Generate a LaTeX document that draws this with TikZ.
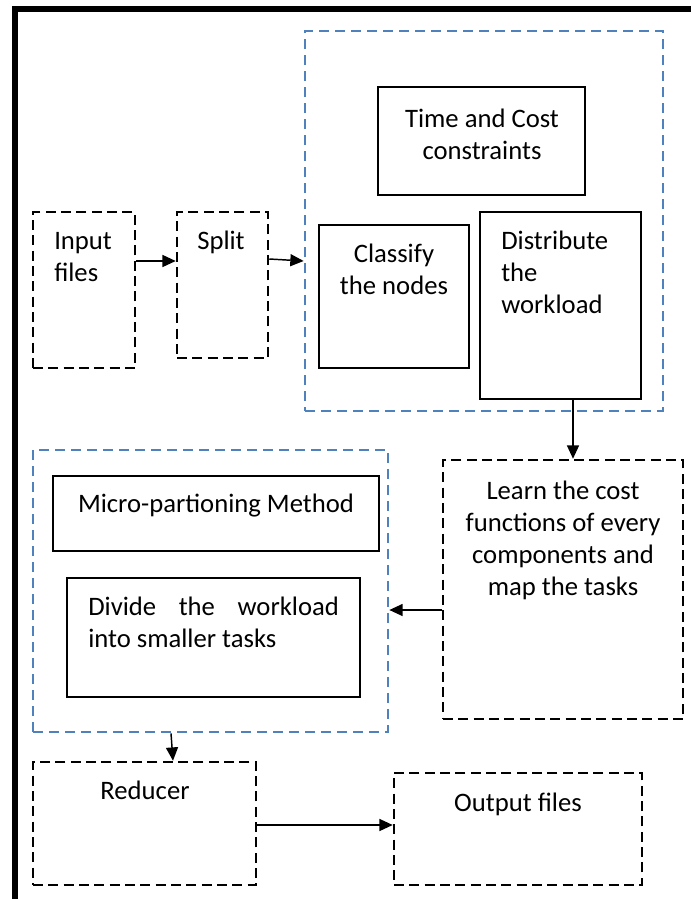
\documentclass[tikz,border=0pt]{standalone}
\usepackage{fontspec}
\setmainfont{Carlito}
\usetikzlibrary{arrows.meta,fit}
\definecolor{grpblue}{RGB}{79,129,189}
\begin{document}
\begin{tikzpicture}[x=0.75pt,y=-0.75pt,
  dbox/.style={draw, line width=1.9pt, dash pattern=on 7.5pt off 4pt, inner sep=0pt},
  gbox/.style={draw=grpblue, line width=2pt, dash pattern=on 7.5pt off 4.5pt, inner sep=0pt},
  sbox/.style={draw, line width=1.1pt, inner sep=0pt},
  txt/.style={font=\fontsize{20}{24}\selectfont, inner sep=0pt, anchor=north},
  arr/.style={line width=1.1pt, -{Triangle[length=10pt,width=9pt]}}]
\useasboundingbox (0,0) rectangle (691,899);
% outer frame
\draw[line width=4.5pt] (15,910) -- (15,9) -- (700,9);
% boxes
\node[dbox, fit={(33,212) (135,368)}] (inp) {};
\node[dbox, fit={(177,212) (268,358)}] (split) {};
\node[gbox, fit={(305,31) (663,411)}] (grp1) {};
\node[sbox, fit={(378,87) (585,195)}] (tc) {};
\node[sbox, fit={(319,225) (469,368)}] (cls) {};
\node[sbox, fit={(480,212) (641,399)}] (dist) {};
\node[dbox, fit={(443,460) (683,719)}] (learn) {};
\node[gbox, fit={(33,450) (388,732)}] (grp2) {};
\node[sbox, fit={(53,476) (379,551)}] (micro) {};
\node[sbox, fit={(67,578) (360,697)}] (div) {};
\node[dbox, fit={(33,762) (256,885)}] (red) {};
\node[dbox, fit={(394,773) (642,885)}] (out) {};
% texts
\node[txt, anchor=north west, align=left] (tinp) at (54,227) {\strut Input\\files};
\node[txt, anchor=north west] (tsplit) at (197,227) {\strut Split};
\node[txt, align=center] (ttc) at (482,105) {\strut Time and Cost\\constraints};
\node[txt, align=center] (tcls) at (394,240) {\strut Classify\\the nodes};
\node[txt, anchor=north west, align=left] (tdist) at (501,227) {\strut Distribute\\the\\workload};
\node[txt, align=center] (tlearn) at (563,477) {\strut Learn the cost\\functions of every\\components and\\map the tasks};
\node[txt] (tmicro) at (216,490) {\strut Micro-partioning Method};
\node[txt, anchor=north west, text width=188pt, align=justify] (tdiv) at (88,593) {\strut Divide the workload into smaller tasks};
\node[txt] (tred) at (145,777) {\strut Reducer};
\node[txt] (tout) at (518,789) {\strut Output files};
% arrows
\draw[arr] (inp.east |- 0,261) -- (split.west |- 0,261);
\draw[arr] (split.east |- 0,259) -- (grp1.west |- 0,261);
\draw[arr] (dist.south -| 573,0) -- (learn.north -| 573,0);
\draw[arr] (learn.west |- 0,610) -- (grp2.east |- 0,610);
\draw[arr] (grp2.south -| 171,0) -- (red.north -| 173,0);
\draw[arr] (red.east |- 0,825) -- (out.west |- 0,825);
\end{tikzpicture}
\end{document}
